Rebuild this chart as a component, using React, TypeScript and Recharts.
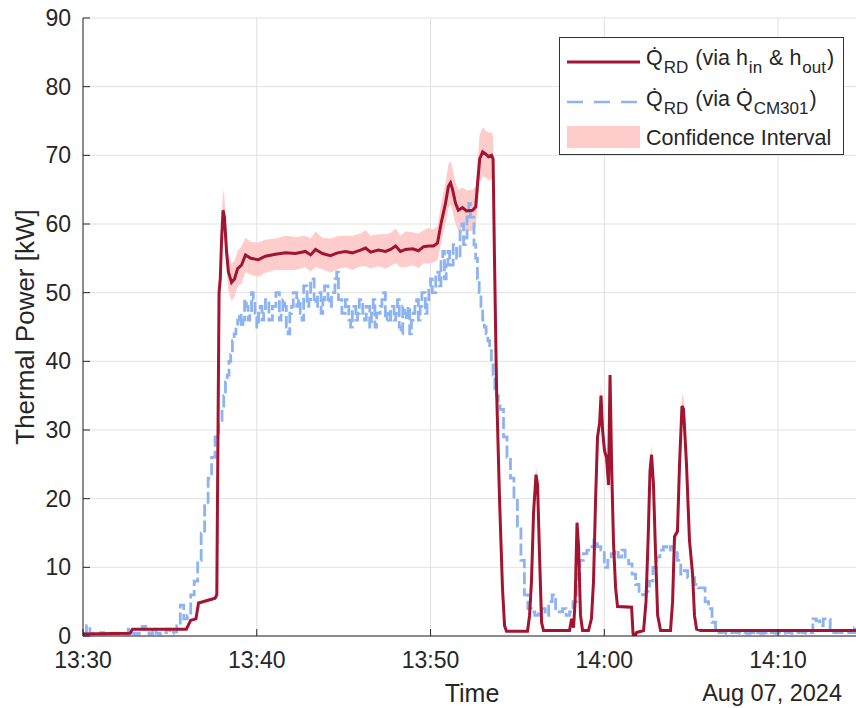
import React from "react"
import { ComposedChart, Line, Area, XAxis, YAxis, CartesianGrid, Legend, Label } from "recharts"

const FONT = '"Liberation Sans", Arial, Helvetica, sans-serif'
const INK = "#262626"
const RED = "#A2142F"
const BLUE = "#8DB3F2"
const PINK = "#FFCCCC"

// minutes after 13:30
const xTicks = [0, 10, 20, 30, 40]
const xTickLabels = ["13:30", "13:40", "13:50", "14:00", "14:10"]
const yTicks = [0, 10, 20, 30, 40, 50, 60, 70, 80, 90]
const dateLabel = "Aug 07, 2024"
const X_MAX = 44.6

// Q_RD via h_in & h_out: [minute, kW, confidence half width]
const redPoints: [number, number, number][] = [
  [0, 0.3, 0.05], [2.7, 0.4, 0.05], [2.85, 1.0, 0.05], [5.95, 1.0, 0.05],
  [6.2, 2.3, 0.1], [6.5, 2.5, 0.1], [6.65, 4.8, 0.2], [7.6, 5.5, 0.25],
  [7.7, 6, 0.3], [7.77, 30, 1.5], [7.83, 50, 2.5], [7.9, 52, 2.6],
  [7.98, 58, 2.9], [8.06, 62, 3.0], [8.14, 61, 3.0], [8.26, 56, 2.8],
  [8.37, 53, 2.7], [8.55, 51.5, 2.7], [8.72, 52, 2.6], [8.9, 53.5, 2.6],
  [9.12, 54, 2.7], [9.35, 55.5, 2.5], [9.65, 55, 2.4], [10.1, 54.8, 2.5],
  [10.5, 55.3, 2.4], [11.08, 55.6, 2.3], [11.65, 55.8, 2.5], [12.23, 55.7, 2.4],
  [12.8, 56.0, 2.3], [13.1, 55.5, 2.4], [13.38, 56.3, 2.6], [13.78, 55.7, 2.3],
  [14.24, 55.4, 2.5], [14.65, 55.8, 2.4], [15.1, 56.0, 2.3], [15.5, 55.8, 2.5],
  [15.97, 56.2, 2.4], [16.26, 56.5, 2.6], [16.55, 55.9, 2.4], [17.0, 56.2, 2.3],
  [17.41, 56.0, 2.5], [17.7, 56.3, 2.4], [17.99, 56.8, 2.5], [18.27, 56.0, 2.3],
  [18.56, 56.3, 2.6], [18.96, 56.4, 2.4], [19.31, 56.1, 2.5], [19.6, 56.7, 2.4],
  [19.88, 56.8, 2.6], [20.17, 56.8, 2.4], [20.4, 57.2, 2.5], [20.6, 60, 2.8],
  [20.86, 63, 3.0], [21.03, 65.5, 3.2], [21.15, 66, 3.2], [21.27, 65, 3.1],
  [21.44, 63, 3.0], [21.6, 62, 3.0], [21.84, 62.4, 2.9], [22.07, 61.9, 3.0],
  [22.42, 62.0, 3.0], [22.6, 62.5, 3.0], [22.71, 66, 3.3], [22.83, 69.5, 3.5],
  [23.0, 70.5, 3.6], [23.17, 70.2, 3.4], [23.34, 69.8, 3.5], [23.51, 70, 3.4],
  [23.6, 69.5, 3.3], [23.68, 55, 2.5], [23.8, 36, 1.6], [23.97, 20, 0.9],
  [24.14, 7, 0.3], [24.26, 1.5, 0.1], [24.37, 0.7, 0.05], [25.58, 0.7, 0.05],
  [25.7, 3, 0.15], [25.81, 8, 0.4], [25.93, 18, 0.9], [26.07, 23.5, 1.2],
  [26.16, 22, 1.1], [26.27, 12, 0.6], [26.39, 2, 0.1], [26.5, 0.8, 0.05],
  [28.0, 0.8, 0.05], [28.12, 2.5, 0.1], [28.23, 1.2, 0.05], [28.32, 5, 0.25],
  [28.43, 16.5, 0.9], [28.52, 13, 0.7], [28.63, 3, 0.15], [28.75, 0.8, 0.05],
  [29.09, 0.8, 0.05], [29.26, 2.5, 0.1], [29.38, 8, 0.4], [29.5, 20, 1.0],
  [29.61, 29, 1.5], [29.73, 31, 1.6], [29.81, 35, 1.8], [29.9, 30, 1.5],
  [30.01, 27, 1.3], [30.13, 26, 1.3], [30.24, 22, 1.1], [30.33, 38, 1.9],
  [30.42, 25, 1.2], [30.53, 13.5, 0.7], [30.65, 7, 0.35], [30.76, 4.3, 0.2],
  [31.57, 4.2, 0.2], [31.65, 0.5, 0.05], [31.71, -0.5, 0.05], [31.86, 0.5, 0.05],
  [32.26, 0.8, 0.05], [32.4, 5, 0.25], [32.52, 14, 0.7], [32.63, 24, 1.2],
  [32.72, 26.4, 1.4], [32.83, 22, 1.1], [32.95, 12, 0.6], [33.07, 3, 0.15],
  [33.24, 0.8, 0.05], [33.81, 0.8, 0.05], [33.93, 5, 0.25], [34.04, 14.5, 0.7],
  [34.21, 15.2, 0.8], [34.33, 25, 1.3], [34.47, 33.5, 1.8], [34.56, 33, 1.7],
  [34.73, 25, 1.3], [34.9, 14, 0.7], [35.08, 9, 0.45], [35.19, 3, 0.15],
  [35.31, 1, 0.05], [35.54, 0.8, 0.05], [44.6, 0.8, 0.05],
]

// Q_RD via Q_CM301, read in three stretches: [start minute, sample step, values]
const blueStartA = 0
const blueStepA = 0.2
const blueA = [
  0.4, 1.5, 0.3, 0.4, 0.3, 0.5, 0.3, 0.4, 0.3, 0.4,
  0.3, 0.4, 0.3, 1.0, 0.4, 0.3, 0.4, 1.4, 0.5, 0.3,
  1.2, 0.4, 0.3, 0.5, 1.0, 0.4, 0.6, 1.5, 4.5, 2.5,
  3, 6, 8, 11, 15, 19, 23, 26, 29, 31,
]
const blueStartB = 8
const blueStepB = 0.1
const blueB = [
  33, 35, 37, 38, 40, 41, 43, 44, 45, 46,
  47, 45, 46, 49, 48, 46, 47, 50, 49, 47,
  45, 47, 48, 46, 47, 49, 49, 46, 46, 48,
  48, 50, 50, 46, 47, 49, 48, 45, 44, 47,
  48, 50, 50, 48, 49, 47, 46, 51, 51, 48,
  49, 52, 52, 49, 48, 50, 50, 47, 49, 51,
  51, 49, 48, 50, 50, 52, 53, 49, 49, 47,
  47, 49, 48, 46, 45, 48, 48, 46, 47, 49,
  49, 47, 46, 48, 48, 45, 47, 49, 45, 47,
  47, 48, 49, 50, 46, 47, 46, 48, 48, 46,
  47, 49, 45, 44, 48, 47, 46, 48, 44, 46,
  47, 48, 49, 46, 48, 50, 50, 47, 49, 51,
  52, 50, 50, 53, 53, 51, 55, 56, 52, 54,
  56, 54, 54, 57, 57, 55, 55, 59, 60, 57,
  58, 61, 63, 61, 61, 57, 55, 52, 50, 48,
  46, 45, 44, 43, 42, 40, 38, 36, 35, 34,
]
const blueStartC = 24
const blueStepC = 0.2
const blueC = [
  33, 29, 26, 23, 20, 16, 11, 6, 4, 3.5,
  3, 3.5, 4, 3, 5, 6, 4, 3.5, 4, 3,
  3.5, 5, 9, 11, 12, 12.5, 13, 14, 13, 12.5,
  10, 11, 12, 12.5, 11.5, 12.5, 11, 10.5, 9, 7.5,
  6.5, 6, 6.5, 8, 10, 11.5, 12.5, 13, 12.5, 13,
  12.5, 11, 9, 9.5, 8.5, 8.5, 7.5, 7, 7, 5,
  4, 2, 0.8, 0.5, 0.6, 0.4, 0.5, 0.6, 0.5, 0.4,
  0.5, 0.4, 0.5, 0.6, 0.5, 0.4, 0.5, 0.6, 0.5, 0.4,
  0.5, 0.4, 0.6, 0.5, 0.4, 0.5, 0.6, 0.5, 0.4, 0.5,
  2.5, 2.2, 1.5, 2.5, 2.4, 0.8, 0.5, 0.6, 0.5, 0.5,
  0.5, 0.5, 1.2, 0.8,
]

const redData = redPoints.map(([t, v, h]) => ({ t, red: v, band: [v - h, v + h] }))
const stretch = (start: number, step: number, vals: number[]) =>
  vals.map((v, i) => ({ t: Number((start + i * step).toFixed(2)), blue: v }))
const blueData = [
  ...stretch(blueStartA, blueStepA, blueA),
  ...stretch(blueStartB, blueStepB, blueB),
  ...stretch(blueStartC, blueStepC, blueC),
]

const TICK = 7

function BottomTick(props: any) {
  const { x, y, payload } = props
  const i = xTicks.indexOf(payload.value)
  return (
    <g>
      <line x1={x} x2={x} y1={y} y2={y - TICK} stroke={INK} />
      <text x={x} y={y + 32} textAnchor="middle" fontFamily={FONT} fontSize={23} fill={INK}>
        {xTickLabels[i]}
      </text>
    </g>
  )
}

function TopTick(props: any) {
  const { x, y } = props
  return <line x1={x} x2={x} y1={y} y2={y + TICK} stroke={INK} />
}

function LeftTick(props: any) {
  const { x, y, payload } = props
  return (
    <g>
      <line x1={x} x2={x + TICK} y1={y} y2={y} stroke={INK} />
      <text x={x - 12} y={y + 8} textAnchor="end" fontFamily={FONT} fontSize={23} fill={INK}>
        {payload.value}
      </text>
    </g>
  )
}

function RightTick(props: any) {
  const { x, y } = props
  return <line x1={x} x2={x - TICK} y1={y} y2={y} stroke={INK} />
}

const sub = { fontSize: 17, position: "relative" as const, top: 8, margin: "0 1px" }

function LegendBox() {
  const text = { position: "absolute" as const, left: 86, whiteSpace: "nowrap" as const, lineHeight: "24px" }
  return (
    <div
      style={{
        position: "relative",
        width: 285,
        height: 118,
        boxSizing: "border-box",
        border: "1px solid #333",
        background: "#fff",
        fontFamily: FONT,
        fontSize: 21.5,
        color: INK,
      }}
    >
      <svg width={80} height={118} style={{ position: "absolute", left: 0, top: 0 }}>
        <line x1={7} x2={80} y1={24} y2={24} stroke={RED} strokeWidth={3} />
        <line x1={7} x2={80} y1={64} y2={64} stroke={BLUE} strokeWidth={2.5} strokeDasharray="16 11" />
        <rect x={7} y={88} width={73} height={22} fill={PINK} />
      </svg>
      <div style={{ ...text, top: 8 }}>
        Q&#775;<span style={sub}>RD</span> (via h<span style={sub}>in</span> &amp; h<span style={sub}>out</span>)
      </div>
      <div style={{ ...text, top: 49 }}>
        Q&#775;<span style={sub}>RD</span> (via Q&#775;<span style={sub}>CM301</span>)
      </div>
      <div style={{ ...text, top: 88 }}>Confidence Interval</div>
    </div>
  )
}

export default function App() {
  return (
    <div style={{ position: "absolute", left: 0, top: 0, width: 856, height: 708, overflow: "hidden", background: "#fff" }}>
      <ComposedChart width={860} height={708} margin={{ top: 18, right: 2, left: 23, bottom: 0 }}>
        <CartesianGrid stroke="#e2e2e2" strokeWidth={1} />
        <XAxis
          dataKey="t"
          type="number"
          domain={[0, X_MAX]}
          ticks={xTicks}
          allowDataOverflow
          height={72}
          tickSize={0}
          tickMargin={0}
          tickLine={false}
          tick={BottomTick}
          axisLine={{ stroke: INK }}
        >
          <Label
            content={() => (
              <g fontFamily={FONT} fill={INK}>
                <text x={472} y={702} textAnchor="middle" fontSize={25}>Time</text>
                <text x={842} y={701} textAnchor="end" fontSize={23.5}>{dateLabel}</text>
              </g>
            )}
          />
        </XAxis>
        <XAxis
          xAxisId="top"
          orientation="top"
          type="number"
          domain={[0, X_MAX]}
          ticks={xTicks}
          allowDataOverflow
          height={0}
          tickSize={0}
          tickLine={false}
          tick={TopTick}
          axisLine={{ stroke: INK }}
        />
        <YAxis
          type="number"
          domain={[0, 90]}
          ticks={yTicks}
          allowDataOverflow
          width={60}
          tickSize={0}
          tickMargin={0}
          tickLine={false}
          tick={LeftTick}
          axisLine={{ stroke: INK }}
        >
          <Label
            content={() => (
              <text
                x={34}
                y={327}
                transform="rotate(-90 34 327)"
                textAnchor="middle"
                fontFamily={FONT}
                fontSize={26}
                fill={INK}
              >
                Thermal Power [kW]
              </text>
            )}
          />
        </YAxis>
        <YAxis
          yAxisId="right"
          orientation="right"
          type="number"
          domain={[0, 90]}
          ticks={yTicks}
          allowDataOverflow
          width={0}
          tickSize={0}
          tickLine={false}
          tick={RightTick}
          axisLine={{ stroke: INK }}
        />
        <Area
          data={redData}
          dataKey="band"
          type="linear"
          stroke="none"
          fill={PINK}
          fillOpacity={1}
          isAnimationActive={false}
          legendType="none"
        />
        <Line
          data={blueData}
          dataKey="blue"
          type="stepAfter"
          stroke={BLUE}
          strokeWidth={2.8}
          strokeDasharray="12 4"
          dot={false}
          isAnimationActive={false}
        />
        <Line
          data={redData}
          dataKey="red"
          type="linear"
          stroke={RED}
          strokeWidth={3}
          dot={false}
          isAnimationActive={false}
        />
        <Legend
          layout="vertical"
          align="center"
          verticalAlign="middle"
          content={() => <LegendBox />}
          wrapperStyle={{ left: 559, top: 37, width: 285, height: 118 }}
        />
      </ComposedChart>
    </div>
  )
}
